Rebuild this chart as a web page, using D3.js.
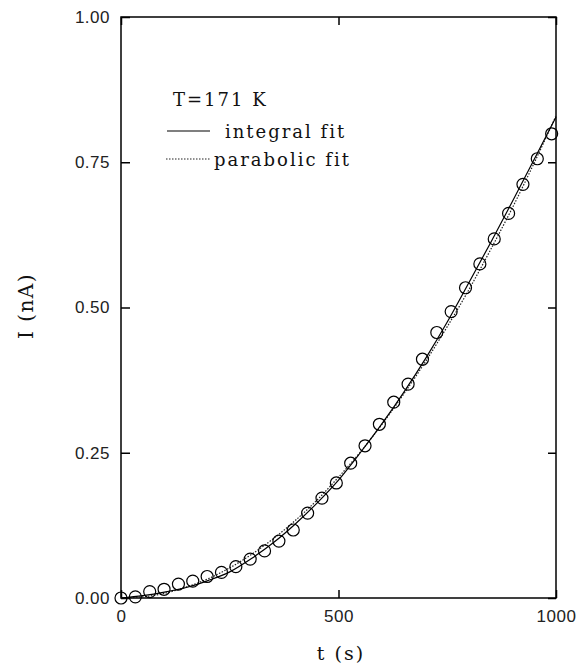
<!DOCTYPE html>
<html>
<head>
<meta charset="utf-8">
<script src="https://cdn.jsdelivr.net/npm/d3@7"></script>
<style>
  html, body { margin: 0; padding: 0; background: #fff; }
  svg { display: block; }
</style>
</head>
<body>
<svg width="577" height="667"></svg>
<script>
// measured points, I (nA) vs t (s)
const timePoints = [0, 33, 66, 99, 132, 165, 198, 231, 264, 297, 330, 363, 396, 429, 462,
  495, 528, 561, 594, 627, 660, 693, 726, 759, 792, 825, 858, 891, 924, 957, 990];
const currentPoints = [0.000, 0.002, 0.011, 0.015, 0.024, 0.029, 0.037, 0.044, 0.054, 0.067,
  0.081, 0.098, 0.117, 0.146, 0.172, 0.198, 0.232, 0.262, 0.299, 0.337, 0.368, 0.411,
  0.457, 0.493, 0.534, 0.575, 0.618, 0.662, 0.712, 0.756, 0.799];

// fit curves
const fitTimes = [0, 50, 100, 150, 200, 250, 300, 350, 400, 450, 500, 550, 600, 650, 700,
  750, 800, 850, 900, 950, 1000];
const integralFit = [0.000, 0.004, 0.010, 0.018, 0.030, 0.045, 0.068, 0.095, 0.127, 0.163,
  0.203, 0.250, 0.300, 0.354, 0.412, 0.475, 0.543, 0.612, 0.683, 0.755, 0.828];
const parabolicFit = [0.000, 0.002, 0.008, 0.019, 0.033, 0.052, 0.075, 0.102, 0.133, 0.168,
  0.208, 0.251, 0.299, 0.351, 0.407, 0.467, 0.531, 0.600, 0.672, 0.749, 0.830];

const xTicks = [0, 500, 1000];
const yTicks = [0, 0.25, 0.5, 0.75, 1];
const legendLabels = ["integral fit", "parabolic fit"];
const legendTitle = "T=171 K";

const box = { left: 121, right: 556, top: 17, bottom: 598 };
const serif = "'DejaVu Serif', 'Liberation Serif', serif";
const sans = "'Liberation Sans', Arial, sans-serif";

const svg = d3.select("svg");
const x = d3.scaleLinear().domain([0, 1000]).range([box.left, box.right]);
const y = d3.scaleLinear().domain([0, 1]).range([box.bottom, box.top]);

// axes, ticks pointing inward
const styleAxis = (g) => {
  g.select(".domain").remove();
  g.selectAll(".tick line").attr("stroke", "#000").attr("stroke-width", 1.5);
  g.selectAll("text").attr("font-family", sans).attr("font-size", 17)
    .attr("letter-spacing", 0.5).attr("fill", "#222");
};

svg.append("g")
  .attr("transform", `translate(${box.left},0)`)
  .call(d3.axisLeft(y).tickValues(yTicks).tickFormat(d3.format(".2f"))
    .tickSizeInner(-9).tickSizeOuter(0).tickPadding(11))
  .call(styleAxis);

svg.append("g")
  .attr("transform", `translate(${box.right},0)`)
  .call(d3.axisRight(y).tickValues(yTicks).tickFormat("")
    .tickSizeInner(-8).tickSizeOuter(0))
  .call(styleAxis);

svg.append("g")
  .attr("transform", `translate(0,${box.bottom})`)
  .call(d3.axisBottom(x).tickValues(xTicks).tickFormat(d3.format("d"))
    .tickSizeInner(-8).tickSizeOuter(0).tickPadding(12))
  .call(styleAxis);

svg.append("g")
  .attr("transform", `translate(0,${box.top})`)
  .call(d3.axisTop(x).tickValues(xTicks).tickFormat("")
    .tickSizeInner(-8).tickSizeOuter(0))
  .call(styleAxis);

// frame
svg.append("rect")
  .attr("x", box.left).attr("y", box.top)
  .attr("width", box.right - box.left).attr("height", box.bottom - box.top)
  .attr("fill", "none").attr("stroke", "#000").attr("stroke-width", 1.5);

// fit lines
const line = (vals) => d3.line()
  .x((d, i) => x(fitTimes[i]))
  .y((d) => y(d))
  .curve(d3.curveMonotoneX)(vals);

svg.append("path")
  .attr("d", line(parabolicFit))
  .attr("fill", "none").attr("stroke", "#222").attr("stroke-width", 1.2)
  .attr("stroke-dasharray", "1.5,1.5");

svg.append("path")
  .attr("d", line(integralFit))
  .attr("fill", "none").attr("stroke", "#000").attr("stroke-width", 1.2);

// data circles
svg.append("g").selectAll("circle")
  .data(timePoints)
  .join("circle")
  .attr("cx", (d) => x(d))
  .attr("cy", (d, i) => y(currentPoints[i]))
  .attr("r", 6)
  .attr("fill", "none")
  .attr("stroke", "#000")
  .attr("stroke-width", 1.2);

// legend
const legend = svg.append("g")
  .attr("font-family", serif).attr("font-size", 18).attr("fill", "#111")
  .attr("letter-spacing", 2);

legend.append("text").attr("x", 173).attr("y", 106).text(legendTitle);

legend.append("line")
  .attr("x1", 167).attr("x2", 210).attr("y1", 131).attr("y2", 131)
  .attr("stroke", "#000").attr("stroke-width", 1.2);
legend.append("text").attr("x", 225).attr("y", 138).text(legendLabels[0]);

legend.append("line")
  .attr("x1", 166).attr("x2", 210).attr("y1", 159).attr("y2", 159)
  .attr("stroke", "#222").attr("stroke-width", 1.2).attr("stroke-dasharray", "1.5,1.5");
legend.append("text").attr("x", 214).attr("y", 166).text(legendLabels[1]);

// axis titles
svg.append("text")
  .attr("x", 341).attr("y", 660)
  .attr("text-anchor", "middle")
  .attr("font-family", serif).attr("font-size", 19).attr("letter-spacing", 2)
  .attr("fill", "#111")
  .text("t (s)");

svg.append("text")
  .attr("transform", "translate(33,306) rotate(-90)")
  .attr("text-anchor", "middle")
  .attr("font-family", serif).attr("font-size", 20).attr("letter-spacing", 1.5)
  .attr("fill", "#111")
  .text("I (nA)");
</script>
</body>
</html>
